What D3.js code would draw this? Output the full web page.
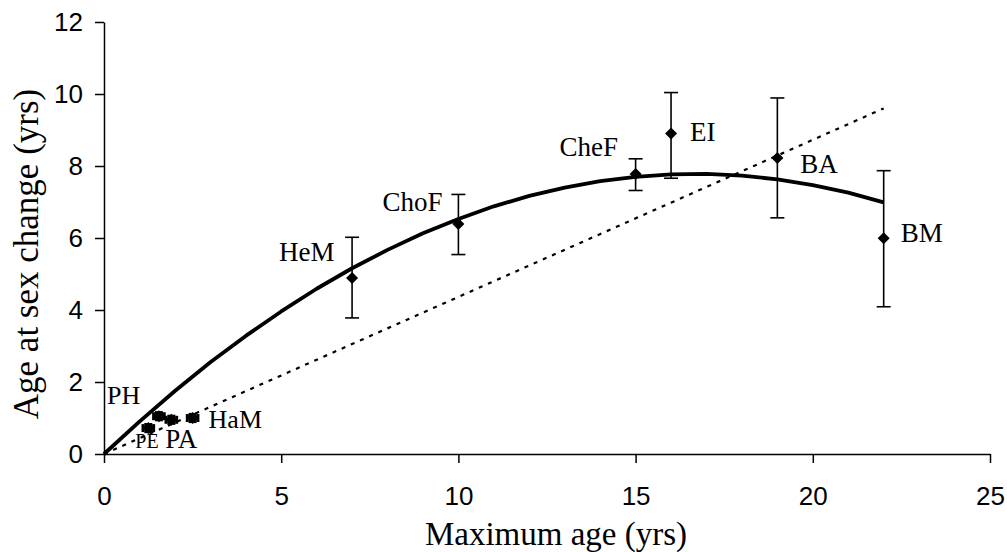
<!DOCTYPE html>
<html>
<head>
<meta charset="utf-8">
<script src="https://cdn.jsdelivr.net/npm/d3@7"></script>
<style>
  html, body { margin: 0; padding: 0; background: #fff; }
  svg { display: block; }
  .serif { font-family: "Liberation Serif", "Times New Roman", Times, serif; }
  .sans { font-family: "Liberation Sans", Arial, Helvetica, sans-serif; }
</style>
</head>
<body>
<svg id="chart" width="1007" height="552"></svg>
<script>
// Species groups: maximum age vs. age at sex change (means with error bars)
const species   = ["PE", "PH", "PA", "HaM", "HeM", "ChoF", "CheF", "EI", "BA", "BM"];
const maxAge    = [1.25, 1.55, 1.9, 2.5, 7, 10, 15, 16, 19, 22];
const sexAge    = [0.72, 1.05, 0.95, 1.0, 4.89, 6.39, 7.78, 8.9, 8.22, 5.99];
const errUpper  = [0.1, 0.1, 0.1, 0.1, 6.02, 7.21, 8.2, 10.04, 9.89, 7.87];
const errLower  = [0.1, 0.1, 0.1, 0.1, 3.78, 5.54, 7.32, 7.66, 6.56, 4.09];
const xErr      = [0.15, 0.15, 0.15, 0.15, 0, 0, 0, 0, 0, 0];

// Quadratic trend through the origin
const trendX = [0, 1, 2, 3, 4, 5, 6, 7, 8, 9, 10, 11, 12, 13, 14, 15, 16, 17, 18, 19, 20, 21, 22];
const trendY = [0, 0.90, 1.75, 2.55, 3.28, 3.96, 4.59, 5.16, 5.67, 6.13, 6.53, 6.88, 7.17,
                7.40, 7.58, 7.70, 7.77, 7.78, 7.73, 7.63, 7.47, 7.26, 6.99];

// Proportional reference line
const refX = [0, 22];
const refY = [0, 9.6];

const xTicks = [0, 5, 10, 15, 20, 25];
const yTicks = [0, 2, 4, 6, 8, 10, 12];

const svg = d3.select("#chart");
const x = d3.scaleLinear().domain([0, 25]).range([104, 990]);
const y = d3.scaleLinear().domain([0, 12]).range([454, 22]);

// Axes
const xAxis = d3.axisBottom(x).tickValues(xTicks).tickSize(9).tickSizeOuter(0).tickPadding(24);
const yAxis = d3.axisLeft(y).tickValues(yTicks).tickSize(9).tickSizeOuter(0).tickPadding(12);

const gx = svg.append("g").attr("transform", `translate(0,${y(0)})`).call(xAxis);
const gy = svg.append("g").attr("transform", `translate(${x(0)},0)`).call(yAxis);
[gx, gy].forEach(g => {
  g.attr("font-family", null).attr("font-size", null);
  g.selectAll("path.domain").attr("stroke", "#000").attr("stroke-width", 1.5);
  g.selectAll(".tick line").attr("stroke", "#000").attr("stroke-width", 1.5);
  g.selectAll(".tick text").attr("fill", "#000").attr("class", "sans").attr("font-size", 26);
});

// Axis titles
svg.append("text")
  .attr("class", "serif")
  .attr("x", 556).attr("y", 545)
  .attr("text-anchor", "middle")
  .attr("font-size", 33)
  .text("Maximum age (yrs)");

svg.append("text")
  .attr("class", "serif")
  .attr("transform", "translate(38,254) rotate(-90)")
  .attr("text-anchor", "middle")
  .attr("font-size", 35)
  .text("Age at sex change (yrs)");

// Reference line (dotted)
svg.append("path")
  .datum(refX.map((v, i) => [v, refY[i]]))
  .attr("fill", "none").attr("stroke", "#000").attr("stroke-width", 2.2)
  .attr("stroke-dasharray", "4,6")
  .attr("d", d3.line().x(d => x(d[0])).y(d => y(d[1])));

// Trend curve
svg.append("path")
  .datum(trendX.map((v, i) => [v, trendY[i]]))
  .attr("fill", "none").attr("stroke", "#000").attr("stroke-width", 3.8)
  .attr("stroke-linejoin", "round")
  .attr("d", d3.line().x(d => x(d[0])).y(d => y(d[1])));

// Error bars
const pts = species.map((s, i) => ({
  name: s, mx: maxAge[i], my: sexAge[i], hi: errUpper[i], lo: errLower[i], xe: xErr[i]
}));

const big = pts.filter(d => d.xe === 0);
const small = pts.filter(d => d.xe > 0);

const eb = svg.append("g").attr("stroke", "#000").attr("stroke-width", 1.6);
big.forEach(d => {
  eb.append("line").attr("x1", x(d.mx)).attr("x2", x(d.mx)).attr("y1", y(d.hi)).attr("y2", y(d.lo));
  eb.append("line").attr("x1", x(d.mx) - 7).attr("x2", x(d.mx) + 7).attr("y1", y(d.hi)).attr("y2", y(d.hi));
  eb.append("line").attr("x1", x(d.mx) - 7).attr("x2", x(d.mx) + 7).attr("y1", y(d.lo)).attr("y2", y(d.lo));
});
small.forEach(d => {
  const ya = y(d.my + d.hi), yb = y(d.my - d.lo);
  const xa = x(d.mx - d.xe), xb = x(d.mx + d.xe);
  eb.append("line").attr("x1", x(d.mx)).attr("x2", x(d.mx)).attr("y1", ya).attr("y2", yb).attr("stroke-width", 3);
  eb.append("line").attr("x1", x(d.mx) - 4).attr("x2", x(d.mx) + 4).attr("y1", ya).attr("y2", ya).attr("stroke-width", 3);
  eb.append("line").attr("x1", x(d.mx) - 4).attr("x2", x(d.mx) + 4).attr("y1", yb).attr("y2", yb).attr("stroke-width", 3);
  eb.append("line").attr("x1", xa).attr("x2", xb).attr("y1", y(d.my)).attr("y2", y(d.my)).attr("stroke-width", 3);
  eb.append("line").attr("x1", xa).attr("x2", xa).attr("y1", y(d.my) - 4).attr("y2", y(d.my) + 4).attr("stroke-width", 3);
  eb.append("line").attr("x1", xb).attr("x2", xb).attr("y1", y(d.my) - 4).attr("y2", y(d.my) + 4).attr("stroke-width", 3);
});

// Diamond markers
const r = 6;
svg.append("g").selectAll("path").data(pts).join("path")
  .attr("d", d => {
    const cx = x(d.mx), cy = y(d.my);
    return `M${cx},${cy - r}L${cx + r},${cy}L${cx},${cy + r}L${cx - r},${cy}Z`;
  })
  .attr("fill", "#000");

// Point labels
const labelPos = {
  PE:   { dx: -13, dy: 20,  size: 20 },
  PH:   { dx: -52, dy: -12, size: 26 },
  PA:   { dx: -6,  dy: 28,  size: 27 },
  HaM:  { dx: 16,  dy: 10,  size: 26 },
  HeM:  { dx: -73, dy: -17, size: 27 },
  ChoF: { dx: -76, dy: -13, size: 27 },
  CheF: { dx: -76, dy: -18, size: 27 },
  EI:   { dx: 19,  dy: 7,   size: 27 },
  BA:   { dx: 23,  dy: 15,  size: 27 },
  BM:   { dx: 17,  dy: 4,   size: 27 }
};
svg.append("g").selectAll("text").data(pts).join("text")
  .attr("class", "serif")
  .attr("x", d => x(d.mx) + labelPos[d.name].dx)
  .attr("y", d => y(d.my) + labelPos[d.name].dy)
  .attr("font-size", d => labelPos[d.name].size)
  .attr("fill", "#000")
  .text(d => d.name);
</script>
</body>
</html>
